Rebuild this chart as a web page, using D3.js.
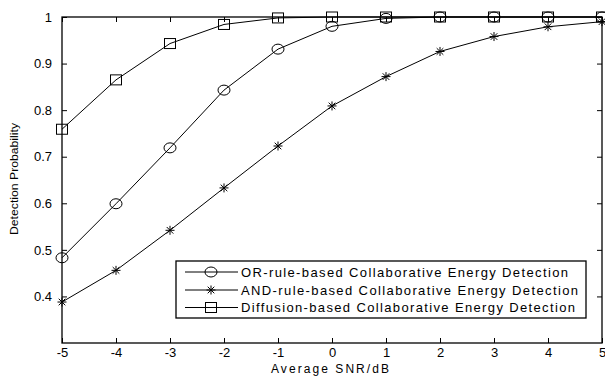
<!DOCTYPE html>
<html><head><meta charset="utf-8">
<script src="https://cdn.jsdelivr.net/npm/d3@7"></script>
<style>body{margin:0;background:#fff}svg{display:block}text{font-family:Arial,"Liberation Sans",sans-serif;fill:#000}</style>
</head><body>
<script>
const snr = [-5,-4,-3,-2,-1,0,1,2,3,4,5];
const orRule = [0.483,0.599,0.719,0.843,0.931,0.980,0.997,1,1,1,1];
const andRule = [0.388,0.456,0.542,0.633,0.723,0.809,0.872,0.926,0.958,0.979,0.990];
const diffusion = [0.759,0.865,0.943,0.984,0.998,1,1,1,1,1,1];
const xTicks = [-5,-4,-3,-2,-1,0,1,2,3,4,5];
const yTicks = [0.4,0.5,0.6,0.7,0.8,0.9,1];
const seriesNames = ["OR-rule-based Collaborative Energy Detection","AND-rule-based Collaborative Energy Detection","Diffusion-based Collaborative Energy Detection"];
const markers = ["circle","star","square"];

const W=605,H=378, L=62,R=602,T=17,B=343;
const svg=d3.select("body").append("svg").attr("width",W).attr("height",H);
const x=d3.scaleLinear().domain([-5,5]).range([L,R]);
const y=d3.scaleLinear().domain([0.3,1]).range([B,T]);

// frame
svg.append("rect").attr("x",L).attr("y",T).attr("width",R-L).attr("height",B-T).attr("fill","none").attr("stroke","#000").attr("stroke-width",1.3);

const tl=5;
const gx=svg.append("g").attr("transform",`translate(0,${B})`).call(d3.axisBottom(x).tickValues(xTicks).tickSize(-tl).tickPadding(5).tickFormat(d=>String(d)));
const gx2=svg.append("g").attr("transform",`translate(0,${T})`).call(d3.axisTop(x).tickValues(xTicks).tickSize(-tl).tickFormat(""));
const gy=svg.append("g").attr("transform",`translate(${L},0)`).call(d3.axisLeft(y).tickValues(yTicks).tickSize(-tl).tickPadding(10).tickFormat(d=>d===1?"1":d.toFixed(1)));
const gy2=svg.append("g").attr("transform",`translate(${R},0)`).call(d3.axisRight(y).tickValues(yTicks).tickSize(-tl).tickFormat(""));
[gx,gx2,gy,gy2].forEach(g=>{g.select(".domain").remove();g.selectAll("line").attr("stroke","#000");g.selectAll("text").style("font-size","13px").attr("font-family",null);});

svg.append("text").attr("x",330).attr("y",373).attr("text-anchor","middle").style("font-size","12px").attr("textLength",118).attr("lengthAdjust","spacing").text("Average SNR/dB");
svg.append("text").attr("transform",`translate(18,179) rotate(-90)`).attr("text-anchor","middle").style("font-size","11px").attr("textLength",112).attr("lengthAdjust","spacingAndGlyphs").text("Detection Probability");

function drawMarker(g,type,cx,cy){
  if(type==="circle") g.append("ellipse").attr("cx",cx).attr("cy",cy).attr("rx",6).attr("ry",5).attr("fill","none").attr("stroke","#000");
  else if(type==="square") g.append("rect").attr("x",cx-5.5).attr("y",cy-5).attr("width",11).attr("height",10).attr("fill","none").attr("stroke","#000");
  else {
    const s=4.5, d=3.3;
    g.append("path").attr("d",`M${cx-s},${cy}H${cx+s}M${cx},${cy-s}V${cy+s}M${cx-d},${cy-d}L${cx+d},${cy+d}M${cx-d},${cy+d}L${cx+d},${cy-d}`).attr("stroke","#000").attr("stroke-width",1);
  }
}

const all=[orRule,andRule,diffusion];
const line=d3.line().x((d,i)=>x(snr[i])).y(d=>y(d));
all.forEach((vals,k)=>{
  const g=svg.append("g");
  g.append("path").datum(vals).attr("d",line).attr("fill","none").attr("stroke","#000").attr("stroke-width",1);
  vals.forEach((v,i)=>drawMarker(g,markers[k],x(snr[i]),y(v)));
});

// legend
const lg=svg.append("g");
lg.append("rect").attr("x",176).attr("y",261).attr("width",410).attr("height",57).attr("fill","#fff").attr("stroke","#000").attr("stroke-width",1.3);
const rows=[272,290,307.5];
const lens=[327,337,334];
seriesNames.forEach((n,k)=>{
  lg.append("line").attr("x1",185).attr("x2",238).attr("y1",rows[k]).attr("y2",rows[k]).attr("stroke","#000");
  drawMarker(lg,markers[k],211,rows[k]);
  lg.append("text").attr("x",241).attr("y",rows[k]+4.5).style("font-size","13px").attr("textLength",lens[k]).attr("lengthAdjust","spacing").text(n);
});
</script>
</body></html>
